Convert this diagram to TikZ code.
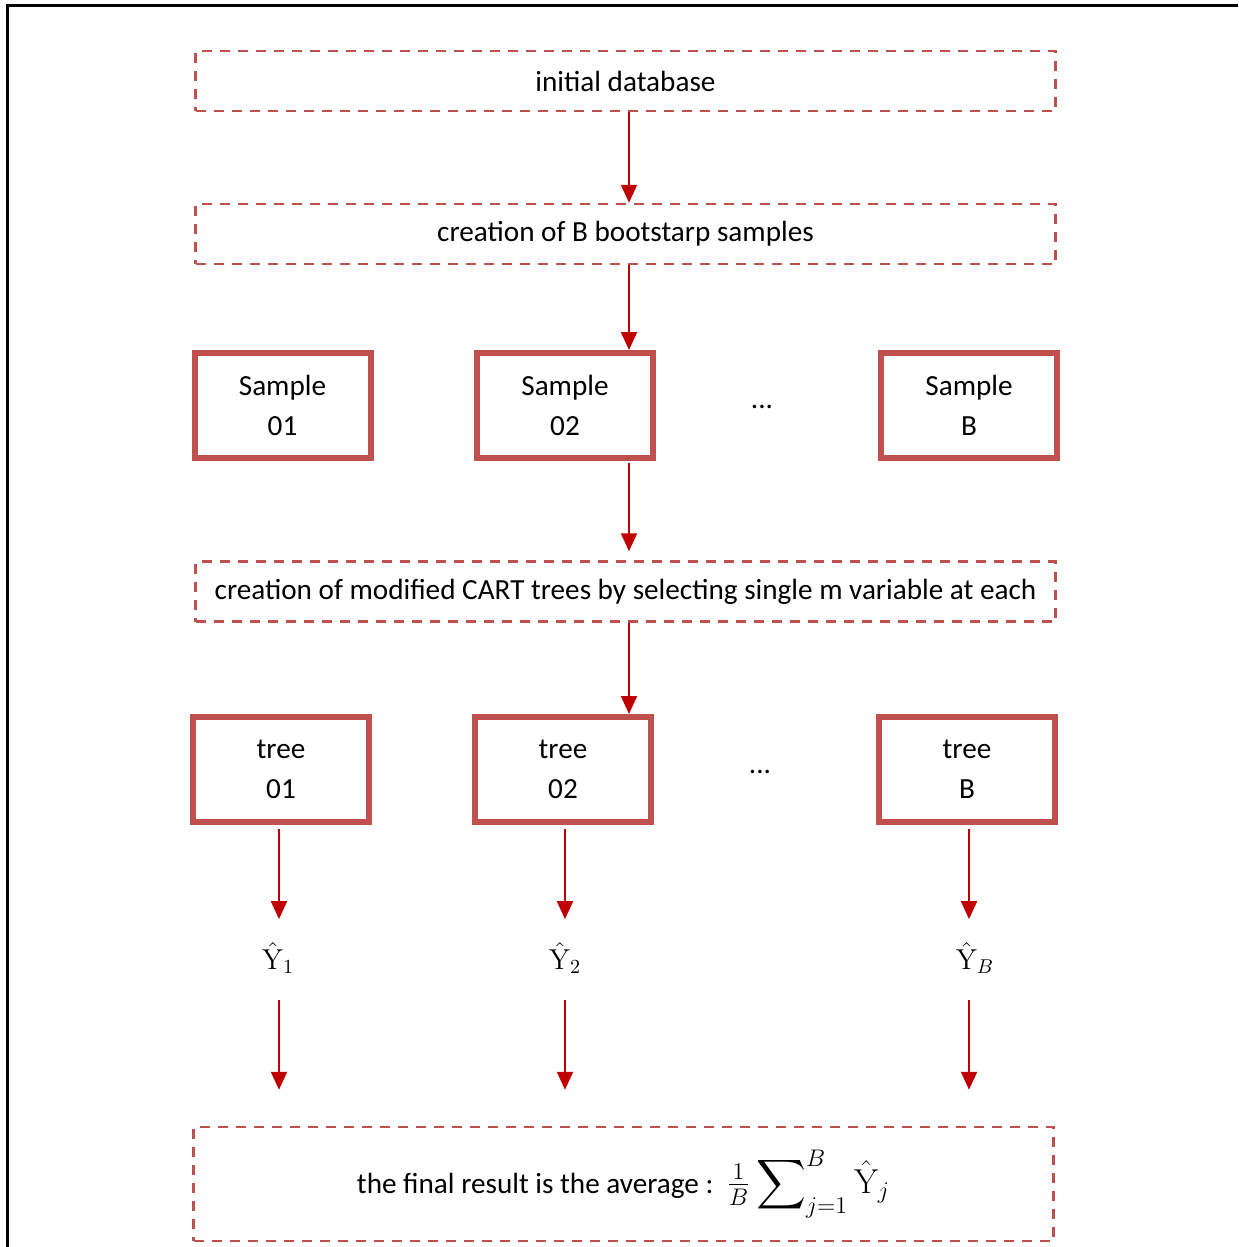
\documentclass[tikz,border=0pt]{standalone}
\usepackage{amsmath}
\usepackage[no-math]{fontspec}
\setmainfont{Carlito}
\usepackage{tikz}
\usetikzlibrary{arrows.meta,positioning}
\definecolor{boxred}{RGB}{192,80,77}
\definecolor{arrowred}{RGB}{192,0,0}

\begin{document}
\begin{tikzpicture}[
    x=0.5pt, y=-0.5pt,
    every node/.style={font=\fontsize{14.6}{20}\selectfont},
    stage/.style={rectangle, draw=boxred, line width=1.25pt, dash pattern=on 5pt off 4pt, minimum width=430pt, minimum height=30pt, inner sep=0pt},
    item/.style={rectangle, draw=boxred, line width=3pt, minimum width=88pt, minimum height=52.5pt, align=center, inner sep=0pt},
    flow/.style={-{Triangle[length=9pt,width=8pt]}, line width=1pt, arrowred}
]
\useasboundingbox (0,0) rectangle (1238,1247);

% outer frame
\draw[line width=1.5pt] (1238,6) -- (7,6) -- (7,1247);

% steps
\node[stage] (base) at (625.5,81) {initial database};
\node[stage] (boot) at (625.5,234) {creation of B bootstarp samples};

% bootstrap samples
\node[item] (s1) at (282.5,405.5) {Sample\\01};
\node[item] (s2) at (565,405.5) {Sample\\02};
\node (sdots) at (762,407) {...};
\node[item] (sB) at (969,405.5) {Sample\\B};

\node[stage] (cart) at (625.5,591.5) {creation of modified CART trees by selecting single m variable at each};

% trees
\node[item] (t1) at (281,769.5) {tree\\01};
\node[item] (t2) at (563,769.5) {tree\\02};
\node (tdots) at (760,772) {...};
\node[item] (tB) at (967,769.5) {tree\\B};

% predictions
\node (y1) at (278,958) {$\hat{\mathrm{Y}}_1$};
\node (y2) at (565,958) {$\hat{\mathrm{Y}}_2$};
\node (yB) at (975,958) {$\hat{\mathrm{Y}}_B$};

% final average
\node[stage, minimum height=57pt] (avg) at (623.5,1184) {the final result is the average :\ \ {\fontsize{16.5}{20}\selectfont$\tfrac{1}{B}\displaystyle\sum\nolimits_{j=1}^{B}\hat{\mathrm{Y}}_j$}};

% spine of the main flow
\coordinate (spine) at (629,0);
\coordinate (c1) at (279,0);
\coordinate (c2) at (565,0);
\coordinate (cB) at (969,0);

% flows
\draw[flow] (base.south -| spine) -- (boot.north -| spine);
\draw[flow] (boot.south -| spine) -- (s2.north -| spine);
\draw[flow, shorten <=1pt, shorten >=4.5pt] (s2.south -| spine) -- (cart.north -| spine);
\draw[flow] (cart.south -| spine) -- (t2.north -| spine);

\draw[flow, shorten <=2pt, shorten >=8pt] (t1.south -| c1) -- (y1.north -| c1);
\draw[flow, shorten <=2pt, shorten >=8pt] (t2.south -| c2) -- (y2.north -| c2);
\draw[flow, shorten <=2pt, shorten >=8pt] (tB.south -| cB) -- (yB.north -| cB);

\draw[flow, shorten <=21pt, shorten >=18pt] (y1.center -| c1) -- (avg.north -| c1);
\draw[flow, shorten <=21pt, shorten >=18pt] (y2.center -| c2) -- (avg.north -| c2);
\draw[flow, shorten <=21pt, shorten >=18pt] (yB.center -| cB) -- (avg.north -| cB);

\end{tikzpicture}
\end{document}
